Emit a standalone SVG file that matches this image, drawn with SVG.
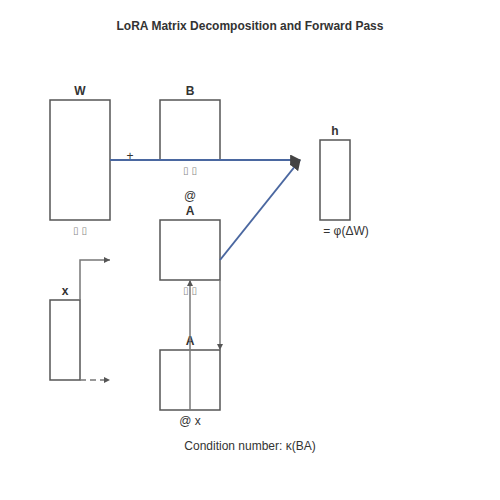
<svg xmlns="http://www.w3.org/2000/svg" width="500" height="500" viewBox="0 0 500 500">
<style>
text{font-family:"Liberation Sans",Arial,sans-serif;fill:#333;text-anchor:middle}
.t{font-size:12px;font-weight:bold}
.lb{font-size:12px;font-weight:bold}
.sm{font-size:12px}
.tofu{font-size:10px;fill:#888;font-family:"DejaVu Sans",sans-serif}
.m{fill:#fff;stroke:#555;stroke-width:1.5}
.g{fill:none;stroke:#777;stroke-width:1.5}
.b{fill:none;stroke:#4a67a0;stroke-width:2}
</style>
<defs>
<marker id="ag2" viewBox="0 0 10 10" refX="10" refY="5" markerWidth="9" markerHeight="6" orient="auto" markerUnits="userSpaceOnUse"><path d="M0,0L10,5L0,10z" fill="#555"/></marker>
<marker id="ab" viewBox="0 0 10 10" refX="9" refY="5" markerWidth="11" markerHeight="11" orient="auto" markerUnits="userSpaceOnUse"><path d="M0,0L10,5L0,10z" fill="#444"/></marker>
</defs>
<text class="t" x="250" y="30">LoRA Matrix Decomposition and Forward Pass</text>
<g id="W"><rect class="m" x="50" y="100" width="60" height="120"/><text class="lb" x="80" y="95">W</text><text class="tofu" x="80" y="234">▯ ▯</text></g>
<g id="B"><rect class="m" x="160" y="100" width="60" height="60"/><text class="lb" x="190" y="95">B</text><text class="tofu" x="190" y="174">▯ ▯</text></g>
<g id="A"><text class="sm" x="190" y="200">@</text><text class="lb" x="190" y="215">A</text><rect class="m" x="160" y="220" width="60" height="60"/><text class="tofu" x="190" y="294">▯ ▯</text></g>
<g id="h"><rect class="m" x="320" y="140" width="30" height="80"/><text class="lb" x="335" y="135">h</text><text class="sm" x="346" y="235" font-size="11.5px">= φ(ΔW)</text></g>
<g id="x"><rect class="m" x="50" y="300" width="30" height="80"/><text class="lb" x="65" y="295">x</text></g>
<g id="A2"><rect class="m" x="160" y="350" width="60" height="60"/><text class="lb" x="190" y="345">A</text><text class="sm" x="190" y="425">@ x</text></g>
<g id="connectors">
<path class="b" d="M110,160H300" marker-end="url(#ab)"/>
<text class="sm" x="130" y="160">+</text>
<path class="b" d="M220,260L300,160" marker-end="url(#ab)"/>
<path class="g" d="M190,410V280" marker-end="url(#ag2)"/>
<path class="g" d="M220,280V350" marker-end="url(#ag2)"/>
<path class="g" d="M80,300V260H110" marker-end="url(#ag2)"/>
<path class="g" d="M80,380H110" stroke-dasharray="6,4" marker-end="url(#ag2)"/>
</g>
<text class="sm" x="250" y="450">Condition number: κ(BA)</text>
</svg>
